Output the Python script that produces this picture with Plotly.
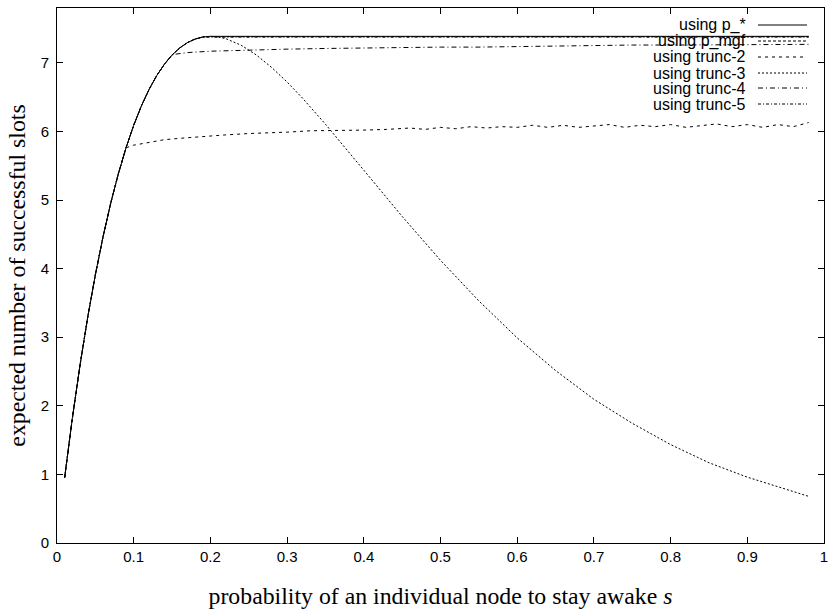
import plotly.graph_objects as go

# common rising part
rise_x = [0.01, 0.02, 0.03, 0.04, 0.05, 0.06, 0.07, 0.08, 0.09, 0.10,
          0.11, 0.12, 0.13, 0.14, 0.15, 0.16, 0.17, 0.18, 0.19, 0.20]
rise_y = [0.955, 1.817, 2.592, 3.288, 3.910, 4.463, 4.953, 5.384, 5.762, 6.090,
          6.372, 6.612, 6.814, 6.980, 7.114, 7.218, 7.295, 7.347, 7.377, 7.387]

# using p_*
pstar_x = rise_x + [0.98]
pstar_y = rise_y + [7.387]

# using p_mgf
pmgf_x = rise_x + [0.98]
pmgf_y = rise_y[:-1] + [7.382, 7.382]

# using trunc-2
t2_x = rise_x[:9] + [0.10, 0.12, 0.14, 0.16, 0.18, 0.20, 0.22, 0.25, 0.28, 0.30,
                     0.33, 0.36, 0.40, 0.43, 0.46, 0.48, 0.50, 0.52, 0.54, 0.56,
                     0.58, 0.60, 0.62, 0.64, 0.66, 0.68, 0.70, 0.72, 0.74, 0.76,
                     0.78, 0.80, 0.82, 0.84, 0.86, 0.88, 0.90, 0.92, 0.94, 0.96, 0.98]
t2_y = rise_y[:9] + [5.80, 5.84, 5.88, 5.90, 5.92, 5.94, 5.95, 5.97, 5.98, 5.99,
                     6.01, 6.01, 6.02, 6.03, 6.05, 6.03, 6.06, 6.04, 6.07, 6.05,
                     6.07, 6.06, 6.09, 6.06, 6.09, 6.06, 6.08, 6.10, 6.06, 6.09,
                     6.07, 6.10, 6.06, 6.09, 6.11, 6.07, 6.10, 6.06, 6.10, 6.07, 6.13]

# using trunc-3 (falling curve)
t3_x = rise_x + [0.21, 0.22, 0.24, 0.26, 0.28, 0.30, 0.32, 0.35, 0.40, 0.45,
                 0.50, 0.55, 0.60, 0.65, 0.70, 0.75, 0.80, 0.85, 0.90, 0.95, 0.98]
t3_y = rise_y + [7.378, 7.353, 7.258, 7.114, 6.932, 6.721, 6.487, 6.106, 5.435, 4.762,
                 4.121, 3.530, 2.990, 2.515, 2.095, 1.745, 1.435, 1.170, 0.960, 0.780, 0.680]

# using trunc-4
t4_x = rise_x[:15] + [0.17, 0.20, 0.25, 0.30, 0.35, 0.40, 0.45, 0.50, 0.55, 0.60,
                      0.65, 0.70, 0.75, 0.80, 0.85, 0.90, 0.95, 0.98]
t4_y = rise_y[:14] + [7.12, 7.15, 7.17, 7.19, 7.20, 7.21, 7.22, 7.22, 7.23, 7.23, 7.24,
                      7.25, 7.25, 7.26, 7.26, 7.26, 7.27, 7.27, 7.27]

# using trunc-5
t5_x = rise_x + [0.98]
t5_y = rise_y[:-1] + [7.375, 7.375]

series_names = ["using p_*", "using p_mgf", "using trunc-2",
                "using trunc-3", "using trunc-4", "using trunc-5"]
series_x = [pstar_x, pmgf_x, t2_x, t3_x, t4_x, t5_x]
series_y = [pstar_y, pmgf_y, t2_y, t3_y, t4_y, t5_y]
dashes = ["solid", "3px,2px", "3px,4px", "2px,2px", "5px,3px,1px,3px", "3px,2px,1px,2px"]

x_ticks = [0, 0.1, 0.2, 0.3, 0.4, 0.5, 0.6, 0.7, 0.8, 0.9, 1]
x_tick_labels = ["0", "0.1", "0.2", "0.3", "0.4", "0.5", "0.6", "0.7", "0.8", "0.9", "1"]
y_ticks = [0, 1, 2, 3, 4, 5, 6, 7]

tick_font = dict(family="Liberation Sans, Arial", size=15, color="black")

fig = go.Figure()
draw_order = [5, 4, 3, 2, 1, 0]
for i in draw_order:
    fig.add_trace(go.Scatter(x=series_x[i], y=series_y[i], mode="lines",
                             name=series_names[i], showlegend=False, cliponaxis=False,
                             line=dict(color="black", width=1, dash=dashes[i])))

# gnuplot-style key (text right-aligned, sample to the right)
L, R, T, B = 57, 824, 8, 543
row_py = [25, 41, 57, 73, 88, 104]
for i, name in enumerate(series_names):
    yp = (B - row_py[i]) / (B - T)
    fig.add_annotation(x=(748 - L) / (R - L), y=yp, xref="paper", yref="paper",
                       text=name, showarrow=False, xanchor="right", yanchor="middle",
                       font=dict(family="Liberation Sans, Arial", size=16, color="black"))
    fig.add_shape(type="line", xref="paper", yref="paper",
                  x0=(758 - L) / (R - L), x1=(807 - L) / (R - L), y0=yp, y1=yp,
                  line=dict(color="black", width=1, dash=dashes[i]))

axis_common = dict(showline=True, linecolor="black", linewidth=1, mirror="ticks",
                   ticks="inside", ticklen=6, tickcolor="black", tickwidth=1,
                   showgrid=False, zeroline=False, ticklabeloverflow="allow",
                   tickfont=tick_font)

fig.update_xaxes(range=[0, 1], tickvals=x_ticks, ticktext=x_tick_labels,
                 title=dict(text="probability of an individual node to stay awake <i>s</i>",
                            font=dict(family="Liberation Serif, Times New Roman", size=23.8, color="black"),
                            standoff=23),
                 **axis_common)
fig.update_yaxes(range=[0, 7.80], tickvals=y_ticks, ticklabelstandoff=4,
                 title=dict(text="expected number of successful slots",
                            font=dict(family="Liberation Serif, Times New Roman", size=23.8, color="black"),
                            standoff=8),
                 **axis_common)

W, H = 829, 616
fig.update_layout(width=W, height=H, plot_bgcolor="white", paper_bgcolor="white",
                  margin=dict(l=L, r=W - R, t=T, b=H - B, autoexpand=False))

page_css = ("document.documentElement.style.overflow='hidden';"
            "document.body.style.margin='0';document.body.style.overflow='hidden';")
fig.write_html("out.html", post_script=page_css, config={"displayModeBar": False})
